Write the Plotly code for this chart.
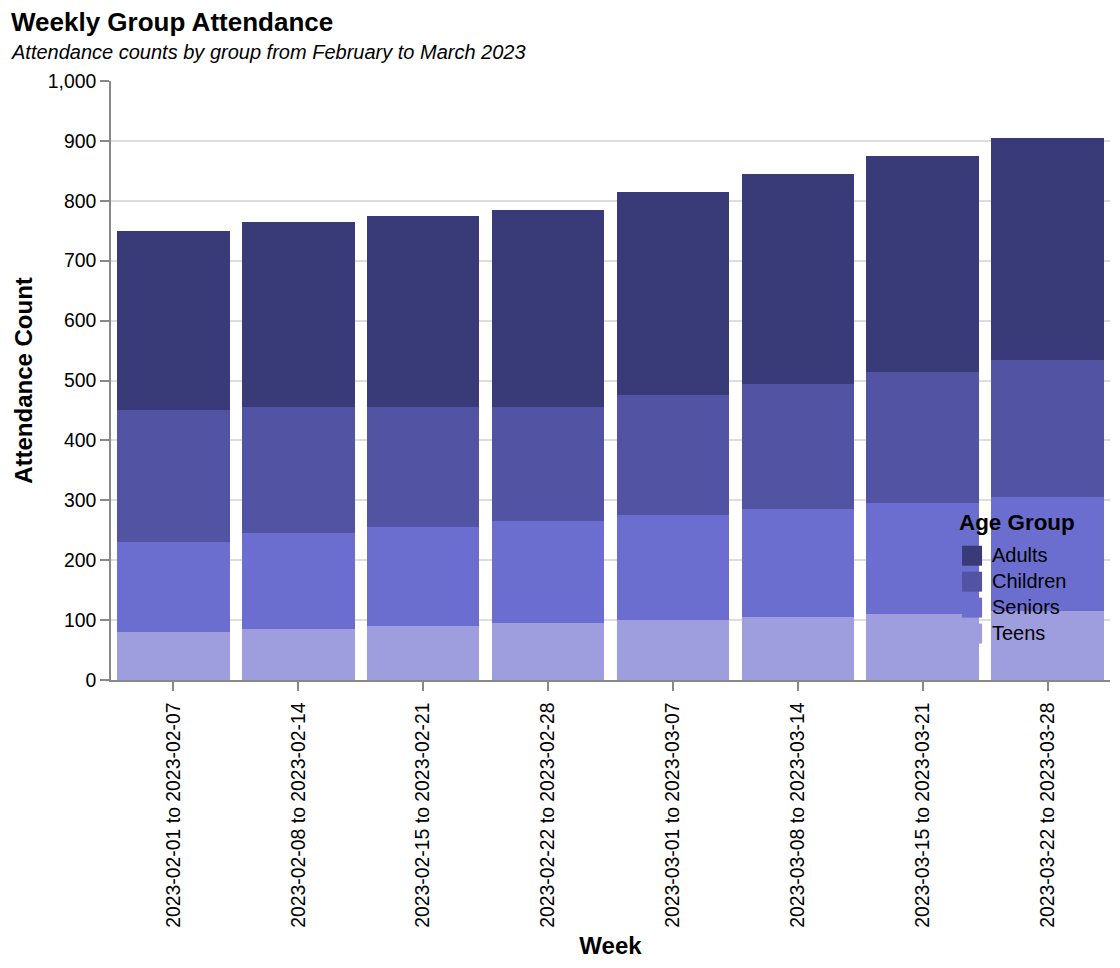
import plotly.graph_objects as go

weeks = ["2023-02-01 to 2023-02-07","2023-02-08 to 2023-02-14","2023-02-15 to 2023-02-21","2023-02-22 to 2023-02-28","2023-03-01 to 2023-03-07","2023-03-08 to 2023-03-14","2023-03-15 to 2023-03-21","2023-03-22 to 2023-03-28"]
teens = [80,85,90,95,100,105,110,115]
seniors = [150,160,165,170,175,180,185,190]
children = [220,210,200,190,200,210,220,230]
adults = [300,310,320,330,340,350,360,370]

OFF = 8  # page body margin
W, H = 1120 - 2*OFF, 968 - 2*OFF
L, R, T, B = 110.5 - OFF, 1110 - OFF, 80.5 - OFF, 680.5 - OFF

fig = go.Figure()
for name, vals, col in [("Teens", teens, "#9e9ede"), ("Seniors", seniors, "#6b6ecf"), ("Children", children, "#5254a3"), ("Adults", adults, "#393b79")]:
    fig.add_trace(go.Bar(x=weeks, y=vals, name=name, marker=dict(color=col, line_width=0), showlegend=False))

fig.update_layout(
    barmode="stack", bargap=0.1, width=W, height=H, autosize=False,
    plot_bgcolor="white", paper_bgcolor="white",
    font=dict(family="Liberation Sans, Arial, sans-serif", color="black"),
    margin=dict(l=L, r=W-R, t=T, b=H-B),
    xaxis=dict(title=dict(text="<b>Week</b>", font=dict(size=24), standoff=10), tickangle=-90, tickfont=dict(size=19.4), ticklabelstandoff=4, ticks="outside", ticklen=9, tickwidth=1.5, tickcolor="#888", linecolor="#888", linewidth=1.5, showline=True, showgrid=False),
    yaxis=dict(title=dict(text="<b>Attendance Count</b>", font=dict(size=24), standoff=8), range=[0,1000], dtick=100, tickformat=",d", tickfont=dict(size=19.4), ticks="outside", ticklen=9, tickwidth=1.5, tickcolor="#888", linecolor="#888", linewidth=1.5, showline=True, gridcolor="#ddd", gridwidth=1.5, zeroline=False),
    showlegend=False,
)
def ptext(x, y, t, size, **kw):
    fig.add_annotation(xref="paper", yref="paper", x=(x-OFF-L)/(R-L), y=(B-y+OFF)/(B-T), text=t, showarrow=False, font=dict(size=size, color="black"), xanchor="left", yanchor="middle", align="left", borderpad=0, **kw)
ptext(9, 21, "<b>Weekly Group Attendance</b>", 26)
ptext(9, 51, "<i>Attendance counts by group from February to March 2023</i>", 20)
ptext(958, 522.5, "<b>Age Group</b>", 22.4)
for i, (n, c) in enumerate([("Adults","#393b79"),("Children","#5254a3"),("Seniors","#6b6ecf"),("Teens","#9e9ede")]):
    yc = 556 + i*26
    fig.add_shape(type="rect", xref="paper", yref="paper", x0=(962-OFF-L)/(R-L), x1=(982-OFF-L)/(R-L), y0=(B-yc+OFF+10)/(B-T), y1=(B-yc+OFF-10)/(B-T), fillcolor=c, opacity=1, line_width=0)
    ptext(991, yc-0.5, n, 20)
fig.write_html("out.html")
